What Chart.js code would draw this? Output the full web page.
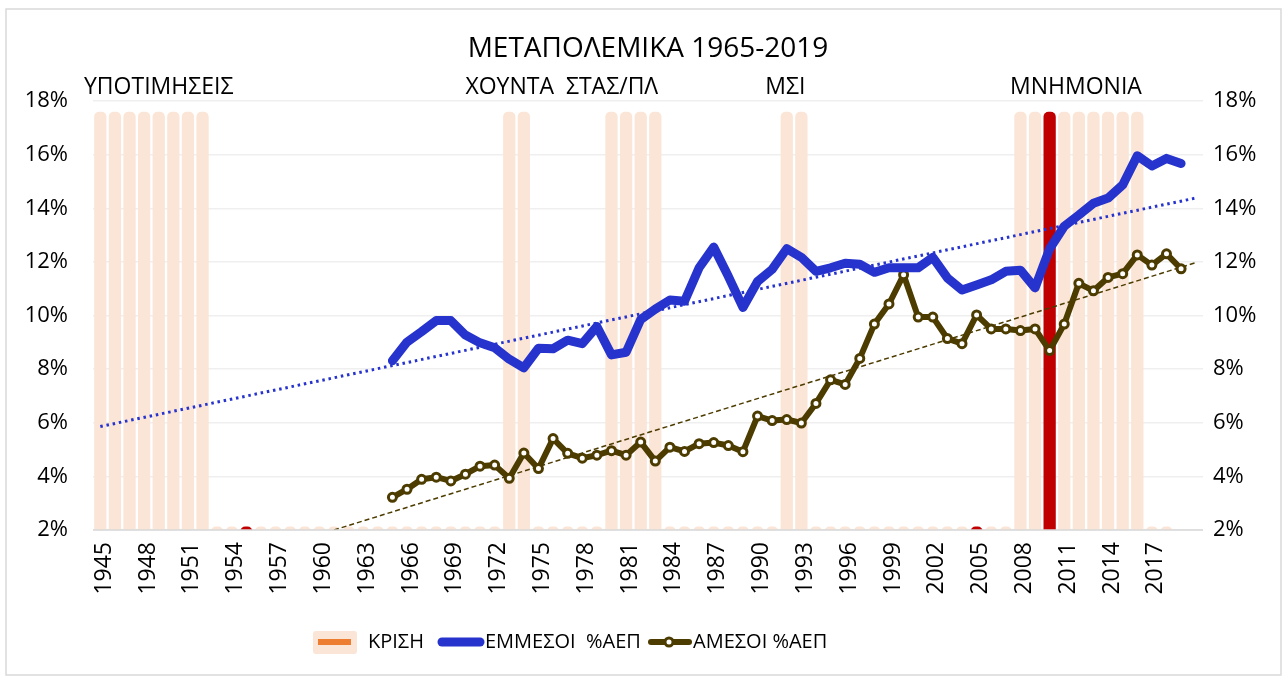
<!DOCTYPE html>
<html>
<head>
<meta charset="utf-8">
<script src="https://cdn.jsdelivr.net/npm/chart.js@4/dist/chart.umd.min.js"></script>
<style>
html,body{margin:0;padding:0;background:#ffffff;}
#wrap{width:1283px;height:677px;position:relative;}
</style>
</head>
<body>
<div id="wrap"><canvas id="c" width="1283" height="677"></canvas></div>
<script>
const categories = ['1945','1946','1947','1948','1949','1950','1951','1952','1953','1954',
  '1955','1956','1957','1958','1959','1960','1961','1962','1963','1964',
  '1965','1966','1967','1968','1969','1970','1971','1972','1973','1974',
  '1975','1976','1977','1978','1979','1980','1981','1982','1983','1984',
  '1985','1986','1987','1988','1989','1990','1991','1992','1993','1994',
  '1995','1996','1997','1998','1999','2000','2001','2002','2003','2004',
  '2005','2006','2007','2008','2009','2010','2011','2012','2013','2014',
  '2015','2016','2017','2018','2019','2020'];

const tickLabels = ['1945','1948','1951','1954','1957','1960','1963','1966','1969','1972',
  '1975','1978','1981','1984','1987','1990','1993','1996','1999','2002','2005','2008',
  '2011','2014','2017'];

const yTicks = [2,4,6,8,10,12,14,16,18];

// ΚΡΙΣΗ (bars)
const crisis = [17.6,17.6,17.6,17.6,17.6,17.6,17.6,17.6,2.13,2.13,
  2.13,2.13,2.13,2.13,2.13,2.13,2.13,2.13,2.13,2.13,
  2.13,2.13,2.13,2.13,2.13,2.13,2.13,2.13,17.6,17.6,
  2.13,2.13,2.13,2.13,2.13,17.6,17.6,17.6,17.6,2.13,
  2.13,2.13,2.13,2.13,2.13,2.13,2.13,17.6,17.6,2.13,
  2.13,2.13,2.13,2.13,2.13,2.13,2.13,2.13,2.13,2.13,
  2.13,2.13,2.13,17.6,17.6,17.6,17.6,17.6,17.6,17.6,
  17.6,17.6,2.13,2.13,null,null];
const highlightYears = ['1955','2005','2010'];

// ΕΜΜΕΣΟΙ %ΑΕΠ
const indirectTax = [null,null,null,null,null,null,null,null,null,null,
  null,null,null,null,null,null,null,null,null,null,
  8.31,9.01,9.40,9.81,9.81,9.27,8.98,8.80,8.37,8.05,
  8.78,8.76,9.08,8.95,9.59,8.53,8.63,9.85,10.24,10.58,
  10.53,11.78,12.55,11.46,10.30,11.27,11.72,12.49,12.17,11.65,
  11.78,11.95,11.91,11.61,11.78,11.78,11.78,12.17,11.40,10.95,
  11.14,11.33,11.65,11.69,11.03,12.49,13.33,13.75,14.19,14.38,
  14.87,15.96,15.58,15.86,15.67,null];

// ΑΜΕΣΟΙ %ΑΕΠ
const directTax = [null,null,null,null,null,null,null,null,null,null,
  null,null,null,null,null,null,null,null,null,null,
  3.22,3.52,3.89,3.97,3.83,4.08,4.38,4.42,3.93,4.87,
  4.29,5.41,4.86,4.68,4.79,4.96,4.79,5.28,4.57,5.09,
  4.93,5.22,5.26,5.15,4.92,6.25,6.08,6.12,5.99,6.72,
  7.60,7.43,8.40,9.68,10.43,11.52,9.94,9.94,9.14,8.95,
  10.02,9.50,9.50,9.44,9.50,8.69,9.68,11.20,10.92,11.42,
  11.56,12.26,11.88,12.30,11.74,null];

// linear trend lines (end points)
const trendIndirectYears = ['1945','2020'];
const trendIndirectValues = [5.86,14.38];
const trendDirectYears = ['1961','2020'];
const trendDirectValues = [2.0,11.97];

const titleText = 'ΜΕΤΑΠΟΛΕΜΙΚΑ 1965-2019';
const periodLabels = ['ΥΠΟΤΙΜΗΣΕΙΣ','ΧΟΥΝΤΑ  ΣΤΑΣ/ΠΛ','ΜΣΙ','ΜΝΗΜΟΝΙΑ'];
const periodCenters = [1949, 1976.6, 1991.9, 2011.8];

const FONT = "'Open Sans', 'Noto Sans', 'DejaVu Sans', sans-serif";
const BLUE = '#2633CC';
const OLIVE = '#4D3C00';
const PEACH = '#FBE5D6';
const RED = '#C00000';
const ORANGE = '#ED7D31';

const barColors = categories.map(c => highlightYears.includes(c) ? RED : PEACH);

const overlay = {
  id: 'overlay',
  afterDatasetsDraw(chart) {
    const {ctx, chartArea: a} = chart;
    ctx.save();
    ctx.strokeStyle = '#D9D9D9';
    ctx.lineWidth = 1.5;
    ctx.beginPath();
    ctx.moveTo(a.left, a.bottom);
    ctx.lineTo(a.right, a.bottom);
    ctx.stroke();
    ctx.restore();
  },
  afterDraw(chart) {
    const {ctx, chartArea: a} = chart;
    const xs = chart.scales.x;
    ctx.save();
    // outer border
    ctx.strokeStyle = '#D9D9D9';
    ctx.lineWidth = 1.5;
    ctx.strokeRect(6, 9, 1275, 666);
    // title
    ctx.fillStyle = '#000';
    ctx.font = `28px ${FONT}`;
    ctx.textAlign = 'center';
    ctx.textBaseline = 'middle';
    ctx.fillText(titleText, (a.left + a.right) / 2, 49);
    // period labels
    ctx.font = `23px ${FONT}`;
    periodLabels.forEach((t, i) => {
      const x = xs.getPixelForValue(periodCenters[i] - 1945);
      ctx.fillText(t, x, 87);
    });
    // legend
    const ds = chart.data.datasets;
    const ly = 642;
    ctx.font = `20px ${FONT}`;
    ctx.textAlign = 'left';
    ctx.fillStyle = PEACH;
    ctx.beginPath();
    ctx.roundRect(313, 631, 44, 23, 3);
    ctx.fill();
    ctx.fillStyle = ORANGE;
    ctx.fillRect(318, 639, 33, 6);
    ctx.fillStyle = '#000';
    ctx.fillText(ds[4].label, 368, ly);
    ctx.strokeStyle = BLUE;
    ctx.lineWidth = 9;
    ctx.lineCap = 'round';
    ctx.beginPath(); ctx.moveTo(442, ly); ctx.lineTo(480, ly); ctx.stroke();
    ctx.fillText(ds[0].label, 485, ly);
    ctx.strokeStyle = OLIVE;
    ctx.lineWidth = 6;
    ctx.beginPath(); ctx.moveTo(651, ly); ctx.lineTo(689, ly); ctx.stroke();
    ctx.lineWidth = 3;
    ctx.fillStyle = '#fff';
    ctx.beginPath(); ctx.arc(669, ly, 4, 0, Math.PI * 2); ctx.fill(); ctx.stroke();
    ctx.fillStyle = '#000';
    ctx.fillText(ds[1].label, 693, ly);
    ctx.restore();
  }
};

new Chart(document.getElementById('c'), {
  type: 'bar',
  data: {
    labels: categories,
    datasets: [
      {
        type: 'line', label: 'ΕΜΜΕΣΟΙ  %ΑΕΠ', data: indirectTax,
        borderColor: BLUE, backgroundColor: BLUE, borderWidth: 9,
        pointRadius: 0, pointHoverRadius: 0, tension: 0,
        borderCapStyle: 'round', borderJoinStyle: 'round',
        yAxisID: 'y', order: 1
      },
      {
        type: 'line', label: 'ΑΜΕΣΟΙ %ΑΕΠ', data: directTax,
        borderColor: OLIVE, backgroundColor: '#ffffff', borderWidth: 6,
        pointRadius: 4, pointBorderWidth: 3, pointBackgroundColor: '#ffffff',
        pointBorderColor: OLIVE, tension: 0,
        borderCapStyle: 'round', borderJoinStyle: 'round',
        yAxisID: 'y', order: 2
      },
      {
        type: 'line', label: 'trend1',
        data: trendIndirectYears.map((c, i) => ({x: c, y: trendIndirectValues[i]})),
        borderColor: BLUE, borderWidth: 3, borderDash: [2.5, 3.8],
        pointRadius: 0, tension: 0, yAxisID: 'y', order: 3
      },
      {
        type: 'line', label: 'trend2',
        data: trendDirectYears.map((c, i) => ({x: c, y: trendDirectValues[i]})),
        borderColor: OLIVE, borderWidth: 1.5, borderDash: [5, 3],
        pointRadius: 0, tension: 0, yAxisID: 'y', order: 3
      },
      {
        type: 'bar', label: 'ΚΡΙΣΗ', data: crisis,
        backgroundColor: barColors, borderWidth: 0,
        barPercentage: 0.84, categoryPercentage: 1.0,
        borderRadius: 5, yAxisID: 'y', order: 10
      }
    ]
  },
  options: {
    responsive: false,
    animation: false,
    events: [],
    layout: {padding: {top: 101, left: 0, right: 0, bottom: 0}},
    plugins: {
      legend: {display: false},
      title: {display: false},
      tooltip: {enabled: false}
    },
    scales: {
      x: {
        offset: true,
        grid: {display: false, drawTicks: false},
        border: {display: false},
        ticks: {
          autoSkip: false, maxRotation: 90, minRotation: 90, padding: 12,
          labelOffset: 4,
          color: '#000', font: {family: FONT, size: 23},
          callback: (v, i) => tickLabels.includes(categories[i]) ? categories[i] : ''
        },
        afterFit: s => { s.height = 147; }
      },
      y: {
        position: 'left', min: 2, max: 18,
        afterBuildTicks: s => { s.ticks = yTicks.map(v => ({value: v})); },
        grid: {color: '#EFEFEF', lineWidth: 1.5, drawTicks: false},
        border: {display: false},
        ticks: {padding: 25, color: '#000', font: {family: FONT, size: 22},
          callback: v => v + '%'},
        afterFit: s => { s.width = 93; }
      },
      y2: {
        position: 'right', min: 2, max: 18,
        afterBuildTicks: s => { s.ticks = yTicks.map(v => ({value: v})); },
        grid: {display: false, drawTicks: false},
        border: {display: false},
        ticks: {padding: 10, color: '#000', font: {family: FONT, size: 22},
          callback: v => v + '%'},
        afterFit: s => { s.width = 80; }
      }
    }
  },
  plugins: [overlay]
});
</script>
</body>
</html>
